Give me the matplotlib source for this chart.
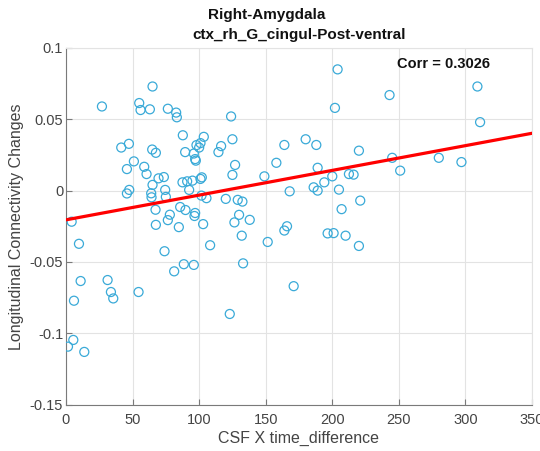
import matplotlib
matplotlib.use("Agg")
import matplotlib.pyplot as plt
import numpy as np

plt.rcParams['font.family'] = ['Liberation Sans', 'DejaVu Sans']

# CSF x time difference vs. longitudinal connectivity change
csf_time = [
    27, 65, 55, 56, 63, 76.5, 82.75, 83.25, 87.75, 103.5,
    41.5, 47.25, 64.75, 67.5, 89.5, 98, 101, 100, 97, 97.5, 96,
    116.5, 114.5, 51, 45.75, 58.75, 60.5, 69.5, 73.5, 87.5, 91, 95, 101, 102, 92.5,
    65, 74.5, 47.5, 45.75, 64, 64.25, 75, 101.75, 105.5,
    67.25, 78, 76.5, 85.75, 89.75, 97, 96.5, 67.5, 84.75, 103, 108.25, 74, 81.25, 88.5, 96,
    4.25, 9.75, 11, 31.25, 33.75, 35.5, 54.5, 6, 5.5, 1.5, 13.75,
    204, 309, 243, 202, 124, 311, 125, 164, 180, 188, 220, 245, 280, 297, 127, 158,
    189, 125, 149, 200, 212.5, 216, 251, 194, 186, 189, 168, 205, 120, 129, 132.5,
    221, 130, 126.5, 138, 207, 166, 164, 196.5, 201, 210, 220, 132, 151.5, 133, 171, 123,
]
conn_change = [
    0.059, 0.073, 0.0614, 0.0565, 0.057, 0.0574, 0.0547, 0.0514, 0.0388, 0.0377,
    0.0302, 0.0328, 0.0288, 0.0265, 0.027, 0.0319, 0.0333, 0.0302, 0.0221, 0.021, 0.026,
    0.0312, 0.027, 0.0205, 0.0151, 0.0167, 0.0116, 0.0086, 0.0095, 0.0058, 0.0065, 0.007, 0.0082, 0.0093, 0.0005,
    0.004, 0.0005, 0.0005, -0.002, -0.0019, -0.0047, -0.0044, -0.0035, -0.0053,
    -0.0134, -0.0169, -0.0207, -0.0115, -0.0136, -0.0157, -0.0178, -0.024, -0.0256, -0.0235, -0.0383, -0.0425, -0.0566, -0.0516, -0.0521,
    -0.0218, -0.0373, -0.0634, -0.0627, -0.0711, -0.0756, -0.0711, -0.0772, -0.1047, -0.1094, -0.1131,
    0.085, 0.073, 0.067, 0.058, 0.052, 0.048, 0.036, 0.032, 0.036, 0.032, 0.028, 0.023, 0.023, 0.020, 0.018, 0.0195,
    0.016, 0.011, 0.010, 0.010, 0.0116, 0.0112, 0.014, 0.0058, 0.0023, 0.0, -0.0005, 0.0007, -0.0058, -0.0065, -0.0077,
    -0.007, -0.017, -0.0223, -0.0205, -0.013, -0.025, -0.028, -0.030, -0.0298, -0.0316, -0.0388, -0.0316, -0.036, -0.051, -0.067, -0.0865,
]

# Least-squares fit line endpoints
fit_x = [0, 350]
fit_y = [-0.0205, 0.0402]

corr_label = "Corr = 0.3026"
title_lines = ["Right-Amygdala", "ctx_rh_G_cingul-Post-ventral"]

x_ticks = [0, 50, 100, 150, 200, 250, 300, 350]
y_ticks = [-0.15, -0.1, -0.05, 0, 0.05, 0.1]
y_tick_labels = ["-0.15", "-0.1", "-0.05", "0", "0.05", "0.1"]

fig = plt.figure(figsize=(5.40, 4.51), dpi=100)
ax = fig.add_axes([0.1222, 0.103, 0.863, 0.7906])

grid_c = "#e3e3e3"
axis_c = "#7a7a7a"
text_c = "#444444"

ax.scatter(csf_time, conn_change, s=42, facecolors="none",
           edgecolors="#3aaad8", linewidths=0.9, zorder=3)
ax.plot(fit_x, fit_y, color="#ff0000", lw=2.3, zorder=4)

ax.set_xlim(0, 350)
ax.set_ylim(-0.15, 0.1)
ax.set_xticks(x_ticks)
ax.set_yticks(y_ticks)
ax.set_yticklabels(y_tick_labels)
ax.grid(True, color=grid_c, lw=0.8)
ax.set_axisbelow(True)

for side in ("left", "bottom"):
    ax.spines[side].set_color(axis_c)
    ax.spines[side].set_linewidth(0.8)
for side in ("top", "right"):
    ax.spines[side].set_color(grid_c)
    ax.spines[side].set_linewidth(0.8)

ax.tick_params(direction="in", length=4, width=0.8, color=axis_c,
               labelsize=10.5, labelcolor=text_c)
ax.tick_params(axis="x", pad=6)
ax.tick_params(axis="y", pad=2)

ax.set_xlabel("CSF X time_difference", fontsize=11.5, color=text_c, labelpad=3)
ax.set_ylabel("Longitudinal Connectivity Changes", fontsize=11.5,
              color=text_c, labelpad=4)

ax.text(0.81, 0.955, corr_label, transform=ax.transAxes, ha="center",
        va="center", fontsize=10.5, fontweight="bold", color="#111111")

fig.text(267 / 540, 1 - 15 / 451, title_lines[0], ha="center", va="center",
         fontsize=11, fontweight="bold", color="#111111")
fig.text(299 / 540, 1 - 35 / 451, title_lines[1], ha="center", va="center",
         fontsize=11, fontweight="bold", color="#111111")

fig.savefig("out.png", dpi=100)
